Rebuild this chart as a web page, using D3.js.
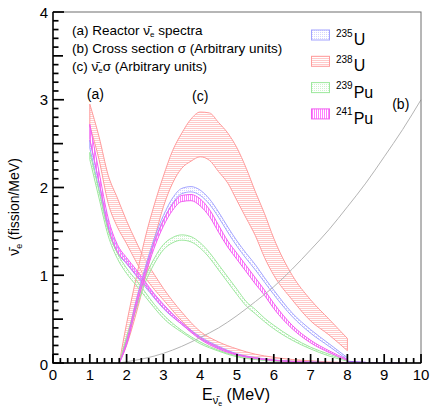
<!DOCTYPE html>
<html>
<head>
<meta charset="utf-8">
<script src="https://cdn.jsdelivr.net/npm/d3@7"></script>
<style>
  body { margin: 0; background: #fff; color: #000; }
  svg { display: block; font-family: "Liberation Sans", Arial, Helvetica, sans-serif; }
</style>
</head>
<body>
<svg id="drawing" width="432" height="410"></svg>
<script>
// energies (MeV) for the reactor spectra, curves (a)
const eA = [1.0, 1.25, 1.5, 1.75, 2.0, 2.25, 2.5, 2.75, 3.0, 3.5, 4.0, 4.5, 5.0, 5.5, 6.0, 6.5, 7.0, 7.5, 8.0]
const u235A_hi = [2.54, 2.06, 1.59, 1.32, 1.17, 1.04, 0.91, 0.78, 0.66, 0.46, 0.30, 0.19, 0.105, 0.062, 0.035, 0.019, 0.011, 0.005, 0.002]
const u235A_lo = [2.45, 1.98, 1.53, 1.26, 1.13, 1.00, 0.87, 0.74, 0.62, 0.44, 0.28, 0.17, 0.095, 0.056, 0.031, 0.017, 0.009, 0.004, 0.001]
const u238A_hi = [2.95, 2.58, 2.14, 1.88, 1.62, 1.39, 1.18, 1.01, 0.85, 0.58, 0.36, 0.24, 0.16, 0.10, 0.065, 0.04, 0.025, 0.012, 0.005]
const u238A_lo = [2.70, 2.32, 1.82, 1.55, 1.36, 1.16, 0.98, 0.84, 0.72, 0.48, 0.28, 0.18, 0.10, 0.06, 0.03, 0.015, 0.008, 0.004, 0.001]
const pu239A_hi = [2.40, 1.96, 1.51, 1.25, 1.08, 0.95, 0.81, 0.67, 0.55, 0.37, 0.24, 0.145, 0.08, 0.045, 0.026, 0.014, 0.008, 0.004, 0.001]
const pu239A_lo = [2.32, 1.88, 1.45, 1.19, 1.02, 0.89, 0.76, 0.63, 0.51, 0.35, 0.22, 0.135, 0.07, 0.039, 0.022, 0.012, 0.006, 0.002, 0.001]
const pu241A_hi = [2.72, 2.18, 1.65, 1.35, 1.20, 1.07, 0.93, 0.79, 0.67, 0.46, 0.29, 0.18, 0.10, 0.058, 0.032, 0.018, 0.010, 0.005, 0.002]
const pu241A_lo = [2.55, 2.06, 1.55, 1.27, 1.14, 1.01, 0.89, 0.75, 0.63, 0.44, 0.27, 0.16, 0.09, 0.052, 0.028, 0.016, 0.008, 0.003, 0.001]

// energies for the detected spectra (flux x cross section), curves (c)
const eC = [1.8, 2.0, 2.25, 2.5, 2.75, 3.0, 3.25, 3.5, 3.75, 4.0, 4.25, 4.5, 4.75, 5.0, 5.25, 5.5, 5.75, 6.0, 6.5, 7.0, 7.5, 8.0]
const u235C_hi = [0, 0.26, 0.70, 1.08, 1.42, 1.68, 1.88, 1.99, 2.01, 1.97, 1.87, 1.72, 1.55, 1.39, 1.25, 1.12, 0.97, 0.83, 0.57, 0.38, 0.22, 0.06]
const u235C_lo = [0, 0.22, 0.64, 1.02, 1.36, 1.62, 1.82, 1.93, 1.95, 1.91, 1.81, 1.66, 1.49, 1.33, 1.19, 1.06, 0.92, 0.78, 0.53, 0.34, 0.19, 0.04]
const u238C_hi = [0, 0.45, 0.95, 1.42, 1.80, 2.13, 2.42, 2.62, 2.78, 2.86, 2.85, 2.74, 2.62, 2.45, 2.22, 1.95, 1.70, 1.42, 1.00, 0.72, 0.50, 0.28]
const u238C_lo = [0, 0.20, 0.55, 0.95, 1.40, 1.78, 2.05, 2.22, 2.30, 2.35, 2.31, 2.18, 2.05, 1.85, 1.65, 1.45, 1.20, 1.00, 0.72, 0.48, 0.32, 0.14]
const pu239C_hi = [0, 0.30, 0.65, 0.97, 1.19, 1.35, 1.43, 1.46, 1.44, 1.37, 1.26, 1.12, 0.98, 0.84, 0.70, 0.61, 0.51, 0.43, 0.29, 0.18, 0.10, 0.03]
const pu239C_lo = [0, 0.26, 0.60, 0.91, 1.13, 1.29, 1.37, 1.40, 1.38, 1.31, 1.20, 1.06, 0.92, 0.78, 0.65, 0.56, 0.47, 0.39, 0.26, 0.16, 0.08, 0.02]
const pu241C_hi = [0, 0.25, 0.68, 1.05, 1.38, 1.63, 1.81, 1.91, 1.92, 1.87, 1.75, 1.57, 1.39, 1.25, 1.11, 0.97, 0.83, 0.68, 0.43, 0.26, 0.14, 0.04]
const pu241C_lo = [0, 0.21, 0.62, 0.99, 1.31, 1.56, 1.74, 1.84, 1.85, 1.79, 1.67, 1.49, 1.32, 1.18, 1.04, 0.90, 0.77, 0.62, 0.39, 0.23, 0.12, 0.03]

// faint tail of the 235U / 241Pu curves along the baseline
const eTail = [8.0, 8.5, 9.0, 9.5]
const tailValues = [0.02, 0.008, 0.004, 0.002]

// IBD cross section, curve (b)
const eB = [1.8, 2.0, 2.5, 3.0, 3.5, 4.0, 4.5, 5.0, 5.5, 6.0, 6.5, 7.0, 7.5, 8.0, 8.5, 9.0, 9.5, 10.0]
const sigmaB = [0, 0.014, 0.053, 0.11, 0.19, 0.29, 0.40, 0.54, 0.70, 0.87, 1.07, 1.29, 1.52, 1.78, 2.05, 2.35, 2.66, 3.0]

const massNumbers = ["235", "238", "239", "241"]
const elements = ["U", "U", "Pu", "Pu"]
const xTickLabels = [0, 1, 2, 3, 4, 5, 6, 7, 8, 9, 10]
const yTickLabels = [0, 1, 2, 3, 4]
const xMinorTicks = [0.2, 0.4, 0.6, 0.8, 1.2, 1.4, 1.6, 1.8, 2.2, 2.4, 2.6, 2.8, 3.2, 3.4, 3.6, 3.8, 4.2, 4.4, 4.6, 4.8,
    5.2, 5.4, 5.6, 5.8, 6.2, 6.4, 6.6, 6.8, 7.2, 7.4, 7.6, 7.8, 8.2, 8.4, 8.6, 8.8, 9.2, 9.4, 9.6, 9.8]
const yMidTicks = [0.5, 1.5, 2.5, 3.5]
const yMinorTicks = [0.1, 0.2, 0.3, 0.4, 0.6, 0.7, 0.8, 0.9, 1.1, 1.2, 1.3, 1.4, 1.6, 1.7, 1.8, 1.9,
    2.1, 2.2, 2.3, 2.4, 2.6, 2.7, 2.8, 2.9, 3.1, 3.2, 3.3, 3.4, 3.6, 3.7, 3.8, 3.9]
const noteLabels = ["(a)", "(b)", "(c)"]

;(function () {
    const frame = { left: 53, right: 421, top: 12, bottom: 363 }

    const x = d3.scaleLinear().domain([0, 10]).range([frame.left, frame.right])
    const y = d3.scaleLinear().domain([0, 4]).range([frame.bottom, frame.top])

    const svg = d3.select('#drawing')
    const defs = svg.append("defs")

    // fill patterns, one per isotope
    function pattern(id, rw, rh, color) {
        const p = defs.append("pattern")
            .attr("id", id)
            .attr("patternUnits", "userSpaceOnUse")
            .attr("width", 2).attr("height", 2)
        p.append("rect").attr("width", rw).attr("height", rh).attr("fill", color)
    }
    pattern("p235", 1, 1, "#d4d4ff")
    pattern("p238", 2, 1, "#ffcaca")
    pattern("p239", 1, 1, "#cff3cf")
    pattern("p241", 1, 2, "#ff80ff")

    const isotopes = [
        { a: [u235A_lo, u235A_hi], c: [u235C_lo, u235C_hi], fill: "url(#p235)", stroke: "#a3a3ff" },
        { a: [u238A_lo, u238A_hi], c: [u238C_lo, u238C_hi], fill: "url(#p238)", stroke: "#ff9c9c" },
        { a: [pu239A_lo, pu239A_hi], c: [pu239C_lo, pu239C_hi], fill: "url(#p239)", stroke: "#9de89d" },
        { a: [pu241A_lo, pu241A_hi], c: [pu241C_lo, pu241C_hi], fill: "url(#p241)", stroke: "#f060f0" }
    ]

    const band = d3.area()
        .x(d => x(d.e))
        .y0(d => y(d.lo))
        .y1(d => y(d.hi))
        .curve(d3.curveMonotoneX)

    function rows(es, lo, hi) {
        return es.map((e, i) => ({ e: e, lo: lo[i], hi: hi[i] }))
    }

    const drawOrder = [1, 0, 2, 3]
    const plot = svg.append("g")
    drawOrder.forEach(k => {
        const iso = isotopes[k]
        plot.append("path")
            .attr("d", band(rows(eA, iso.a[0], iso.a[1])))
            .attr("fill", iso.fill)
            .attr("stroke", iso.stroke)
            .attr("stroke-width", 1)
        plot.append("path")
            .attr("d", band(rows(eC, iso.c[0], iso.c[1])))
            .attr("fill", iso.fill)
            .attr("stroke", iso.stroke)
            .attr("stroke-width", 1)
    })

    const tail = d3.line()
        .x((d, i) => x(eTail[i]))
        .y(d => y(d))
    plot.append("path")
        .attr("d", tail(tailValues))
        .attr("fill", "none")
        .attr("stroke", "#9b59e8")
        .attr("stroke-width", 1.2)

    const line = d3.line()
        .x((d, i) => x(eB[i]))
        .y(d => y(d))
        .curve(d3.curveMonotoneX)

    plot.append("path")
        .attr("d", line(sigmaB))
        .attr("fill", "none")
        .attr("stroke", "#b4b4b4")
        .attr("stroke-width", 1)

    // frame
    svg.append("rect")
        .attr("x", frame.left).attr("y", frame.top)
        .attr("width", frame.right - frame.left)
        .attr("height", frame.bottom - frame.top)
        .attr("fill", "none")
        .attr("stroke", "#6e6e6e")
        .attr("stroke-width", 1)

    // tick marks, pointing into the frame
    const tickG = svg.append("g").attr("stroke", "#000").attr("stroke-width", 1.7)
    const xTick = (vals, len) => tickG.append("g").selectAll("line").data(vals).join("line")
        .attr("x1", d => x(d)).attr("x2", d => x(d))
        .attr("y1", frame.bottom).attr("y2", frame.bottom - len)
    const yTick = (vals, len) => tickG.append("g").selectAll("line").data(vals).join("line")
        .attr("y1", d => y(d)).attr("y2", d => y(d))
        .attr("x1", frame.left).attr("x2", frame.left + len)
    xTick(xTickLabels, 9)
    xTick(xMinorTicks, 5)
    yTick(yTickLabels, 11)
    yTick(yMidTicks, 10)
    yTick(yMinorTicks, 5.5)

    // axis lines
    svg.append("path")
        .attr("d", `M${frame.left},${frame.top}V${frame.bottom}H${frame.right}`)
        .attr("fill", "none")
        .attr("stroke", "#000").attr("stroke-width", 1.4)

    // tick labels
    svg.append("g").selectAll("text").data(xTickLabels).join("text")
        .attr("x", d => x(d))
        .attr("y", frame.bottom + 17)
        .attr("text-anchor", "middle")
        .attr("font-size", 15)
        .text(d => d)
    svg.append("g").selectAll("text").data(yTickLabels).join("text")
        .attr("x", frame.left - 5)
        .attr("y", d => y(d) + (d === 0 ? 7 : 5.5))
        .attr("text-anchor", "end")
        .attr("font-size", 15)
        .text(d => d)

    // axis titles
    const yTitle = svg.append("text")
        .attr("transform", "translate(19,207) rotate(-90)")
        .attr("text-anchor", "middle")
        .attr("font-size", 14)
    yTitle.append("tspan").text("\u03bd\u0304")
    yTitle.append("tspan").attr("font-size", 9).attr("dy", 3).text("e")
    yTitle.append("tspan").attr("dy", -3).text(" (fission/MeV)")

    const xTitle = svg.append("text")
        .attr("x", 202).attr("y", 400)
        .attr("font-size", 16)
    xTitle.append("tspan").text("E")
    xTitle.append("tspan").attr("font-size", 11).attr("dy", 4).text("\u03bd\u0304")
    xTitle.append("tspan").attr("font-size", 7).attr("dy", 2).text("e")
    xTitle.append("tspan").attr("dy", -6).text(" (MeV)")

    // description block
    const notes = svg.append("g").attr("font-size", 13.5)
    notes.append("text").attr("x", 72).attr("y", 35)
        .call(t => t.append("tspan").text("(a) Reactor \u03bd\u0304"))
        .call(t => t.append("tspan").attr("font-size", 8).attr("dy", 2).text("e"))
        .call(t => t.append("tspan").attr("dy", -2).text(" spectra"))
    notes.append("text").attr("x", 72).attr("y", 53)
        .text("(b) Cross section \u03c3 (Arbitrary units)")
    notes.append("text").attr("x", 72).attr("y", 71)
        .call(t => t.append("tspan").text("(c) \u03bd\u0304"))
        .call(t => t.append("tspan").attr("font-size", 8).attr("dy", 2).text("e"))
        .call(t => t.append("tspan").attr("dy", -2).text("\u03c3 (Arbitrary units)"))

    // curve tags
    const tagPos = [[1.15, 99], [9.45, 109], [4.0, 101]]
    noteLabels.forEach((t, i) => {
        svg.append("text")
            .attr("x", x(tagPos[i][0]))
            .attr("y", tagPos[i][1])
            .attr("text-anchor", "middle")
            .attr("font-size", 14)
            .text(t)
    })

    // legend
    const legend = svg.append("g")
    massNumbers.forEach((m, i) => {
        const iso = isotopes[i]
        const top = 30 + i * 26.3
        legend.append("rect")
            .attr("x", 311.5).attr("y", top)
            .attr("width", 18).attr("height", 10)
            .attr("fill", iso.fill)
            .attr("stroke", iso.stroke)
        const t = legend.append("text").attr("x", 336).attr("y", top + 6.5)
        t.append("tspan").attr("font-size", 10).text(m)
        t.append("tspan").attr("font-size", 16).attr("dx", 1).attr("dy", 8.5).text(elements[i])
    })
}).call(this);
</script>
</body>
</html>
